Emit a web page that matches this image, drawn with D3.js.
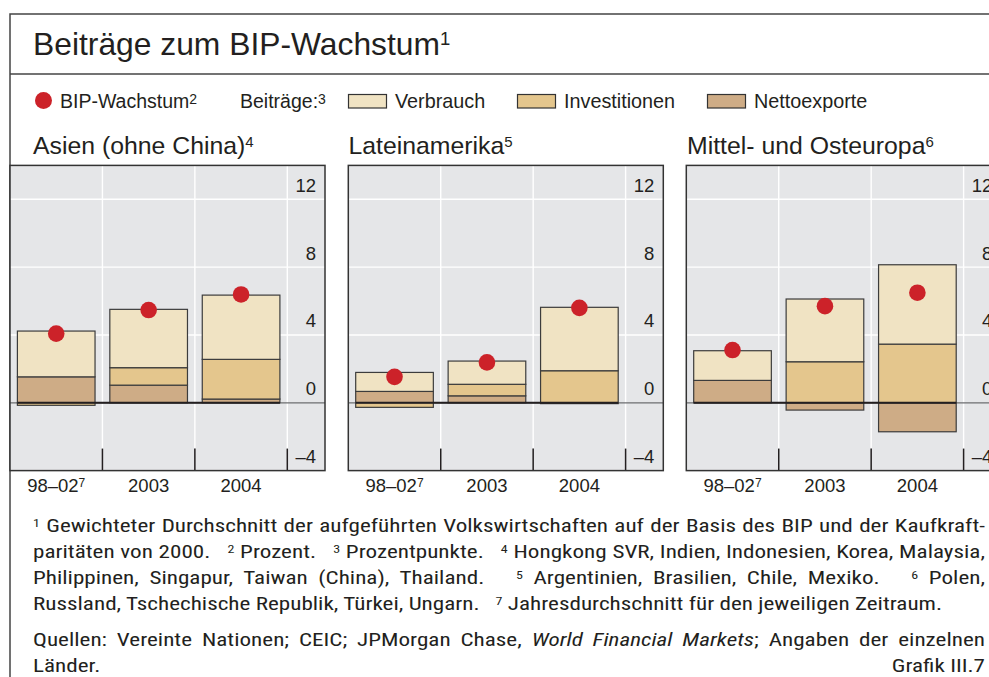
<!DOCTYPE html>
<html>
<head>
<meta charset="utf-8">
<script src="https://cdn.jsdelivr.net/npm/d3@7"></script>
<style>
  body { margin: 0; background: #fff; }
  svg { display: block; font-family: "Liberation Sans", Arial, sans-serif; fill: #231f20; }
  .fn { font-family: "Roboto Condensed", "Liberation Sans Narrow", "DejaVu Sans Condensed", "Liberation Sans", sans-serif; font-stretch: condensed; white-space: pre; }
</style>
</head>
<body>
<svg width="989" height="677"></svg>
<script>
// Beiträge zum BIP-Wachstum, drei Regionen
const regions = ["Asien (ohne China)", "Lateinamerika", "Mittel- und Osteuropa"];
const regionNotes = ["4", "5", "6"];
const categories = ["98–02", "2003", "2004"];
const categoryNotes = ["7", "", ""];
const yTicks = [12, 8, 4, 0, -4];
const keys = ["netto", "invest", "verbrauch"];

// je Region: [98–02, 2003, 2004]
const verbrauch = [[2.70, 3.44, 3.79], [1.12, 1.37, 3.74], [1.75, 3.70, 4.68]];
const investitionen = [[-0.15, 1.03, 2.34], [-0.27, 0.68, 1.89], [0.00, 2.42, 3.46]];
const nettoexporte = [[1.53, 1.04, 0.22], [0.67, 0.41, -0.05], [1.32, -0.43, -1.71]];
const bipWachstum = [[4.08, 5.47, 6.39], [1.53, 2.38, 5.60], [3.11, 5.70, 6.49]];

const colors = { verbrauch: "#f0e3c3", invest: "#e4c68d", netto: "#ceac86" };
const red = "#cc2229";
const plotBg = "#e5e6e8";
const ink = "#231f20";

const svg = d3.select("svg");

// Rahmen
svg.append("path").attr("d", "M10,677V14H989").attr("fill", "none").attr("stroke", "#444").attr("stroke-width", 1.5);
svg.append("line").attr("x1", 10).attr("x2", 989).attr("y1", 74).attr("y2", 74).attr("stroke", "#444").attr("stroke-width", 1.5);

function supText(sel, x, y, main, sup, size, supSize) {
  const t = sel.append("text").attr("x", x).attr("y", y).style("font-size", size + "px").text(main);
  if (sup) {
    t.append("tspan").attr("dy", -(0.72 * size - 0.72 * supSize)).style("font-size", supSize + "px").text(sup);
  }
  return t;
}

supText(svg, 33, 55, "Beiträge zum BIP-Wachstum", "1", 31.8, 18.5);

// Legende
svg.append("circle").attr("cx", 43.5).attr("cy", 100.5).attr("r", 8.5).attr("fill", red);
supText(svg, 60, 108, "BIP-Wachstum", "2", 19.5, 14);
supText(svg, 240, 108, "Beiträge:", "3", 19.5, 14);
const legendItems = [["verbrauch", "Verbrauch", 348.5], ["invest", "Investitionen", 517.5], ["netto", "Nettoexporte", 707.5]];
legendItems.forEach(([k, label, lx]) => {
  svg.append("rect").attr("x", lx).attr("y", 94.5).attr("width", 38).attr("height", 13.5)
    .attr("fill", colors[k]).attr("stroke", "#333").attr("stroke-width", 1.2);
  svg.append("text").attr("x", lx + 46.5).attr("y", 108).style("font-size", "19.8px").text(label);
});

// Panels
const panelLeft = [10, 348.3, 686.3];
const panelTitleX = [33, 348.5, 687];
const panelW = 315;
const plotW = 277.3;
const y = d3.scaleLinear().domain([-4, 14]).range([470.6, 165.4]);

const stack = d3.stack().keys(keys).offset(d3.stackOffsetDiverging);

regions.forEach((name, i) => {
  const x0 = panelLeft[i];
  const x = d3.scaleBand().domain(categories).range([x0, x0 + plotW]).paddingInner(0.16).paddingOuter(0.08);
  const step = x.step();
  const bounds = categories.map((c) => x(c) + x.bandwidth() / 2 + step / 2);
  const rows = categories.map((c, j) => ({
    cat: c, verbrauch: verbrauch[i][j], invest: investitionen[i][j], netto: nettoexporte[i][j], bip: bipWachstum[i][j]
  }));
  const series = stack(rows);
  const g = svg.append("g");

  supText(svg, panelTitleX[i], 154, name, regionNotes[i], 24.8, 15);

  g.append("rect").attr("x", x0).attr("y", y(14)).attr("width", panelW).attr("height", y(-4) - y(14)).attr("fill", plotBg);

  g.selectAll(".hgrid").data([12, 8, 4]).join("line")
    .attr("x1", x0).attr("x2", x0 + panelW).attr("y1", (d) => y(d)).attr("y2", (d) => y(d))
    .attr("stroke", "#fff").attr("stroke-width", 1.4);
  g.selectAll(".vgrid").data(bounds).join("line")
    .attr("x1", (d) => d).attr("x2", (d) => d).attr("y1", y(14)).attr("y2", y(-4) - 22)
    .attr("stroke", "#fff").attr("stroke-width", 1.4);
  g.selectAll(".xtick").data(bounds).join("line")
    .attr("x1", (d) => d).attr("x2", (d) => d).attr("y1", y(-4) - 22).attr("y2", y(-4))
    .attr("stroke", ink).attr("stroke-width", 1.5);

  g.append("line").attr("x1", x0).attr("x2", x0 + panelW).attr("y1", y(0)).attr("y2", y(0))
    .attr("stroke", "#6d6e71").attr("stroke-width", 1.2);

  // Balken
  series.forEach((s) => {
    g.selectAll(null).data(s.filter((d) => Math.abs(d[1] - d[0]) > 0.001)).join("rect")
      .attr("x", (d) => x(d.data.cat))
      .attr("width", x.bandwidth())
      .attr("y", (d) => y(d[1]))
      .attr("height", (d) => y(d[0]) - y(d[1]))
      .attr("fill", colors[s.key])
      .attr("stroke", "#3c3c3c")
      .attr("stroke-width", 1.2);
  });

  g.append("line").attr("x1", x(categories[0])).attr("x2", x(categories[2]) + x.bandwidth())
    .attr("y1", y(0)).attr("y2", y(0)).attr("stroke", ink).attr("stroke-width", 2);

  g.selectAll(".dot").data(rows).join("circle")
    .attr("cx", (d) => x(d.cat) + x.bandwidth() / 2)
    .attr("cy", (d) => y(d.bip))
    .attr("r", 8.3)
    .attr("fill", red);

  // Rahmen des Panels
  g.append("rect").attr("x", x0).attr("y", y(14)).attr("width", panelW).attr("height", y(-4) - y(14))
    .attr("fill", "none").attr("stroke", "#333").attr("stroke-width", 1.5);

  // y-Achse (Beschriftung)
  const yAxis = g.append("g").attr("transform", "translate(" + (x0 + panelW - 9) + ",0)")
    .call(d3.axisLeft(y).tickValues(yTicks).tickSize(0).tickFormat((d) => (d < 0 ? "–" + Math.abs(d) : d)));
  yAxis.select(".domain").remove();
  yAxis.selectAll("text").attr("x", 0).attr("dy", -8).attr("fill", ink)
    .style("font-size", "18.5px").style("font-family", "Liberation Sans, Arial, sans-serif");

  // x-Achse
  const xAxis = g.append("g").attr("transform", "translate(0," + y(-4) + ")")
    .call(d3.axisBottom(x).tickSize(0));
  xAxis.select(".domain").remove();
  xAxis.selectAll("text").attr("y", 21).attr("dy", 0).attr("fill", ink)
    .style("font-size", "18.5px").style("font-family", "Liberation Sans, Arial, sans-serif")
    .each(function (d, j) {
      if (categoryNotes[j]) {
        d3.select(this).append("tspan").attr("dy", -4.7).style("font-size", "12px").text(categoryNotes[j]);
      }
    });
});

// Fußnoten
const footnoteLines = [
  [["1", "sup"], [" Gewichteter Durchschnitt der aufgeführten Volkswirtschaften auf der Basis des BIP und der Kaufkraft-"]],
  [["paritäten von 2000.   "], ["2", "sup"], [" Prozent.   "], ["3", "sup"], [" Prozentpunkte.   "], ["4", "sup"], [" Hongkong SVR, Indien, Indonesien, Korea, Malaysia,"]],
  [["Philippinen, Singapur, Taiwan (China), Thailand.   "], ["5", "sup"], [" Argentinien, Brasilien, Chile, Mexiko.   "], ["6", "sup"], [" Polen,"]],
  [["Russland, Tschechische Republik, Türkei, Ungarn.   "], ["7", "sup"], [" Jahresdurchschnitt für den jeweiligen Zeitraum."]],
  [["Quellen: Vereinte Nationen; CEIC; JPMorgan Chase, "], ["World Financial Markets", "it"], ["; Angaben der einzelnen"]],
  [["Länder."]]
];
const footBase = [532, 558, 584, 610, 646, 672];
const footRight = [985, 985, 985, 943, 985, null];

const footTexts = footnoteLines.map((segs, i) => {
  const t = svg.append("text").attr("class", "fn").attr("x", 0).attr("y", 0).style("font-size", "19px");
  let raised = false;
  segs.forEach(([s, kind]) => {
    const ts = t.append("tspan").text(s);
    if (kind === "sup") {
      ts.attr("dy", -5.5).style("font-size", "11.5px");
      raised = true;
    } else {
      if (raised) { ts.attr("dy", 5.5); raised = false; }
      if (kind === "it") ts.style("font-style", "italic");
    }
  });
  return t;
});
const grafik = svg.append("text").attr("class", "fn").attr("text-anchor", "end")
  .style("font-size", "19px").text("Grafik III.7");

// Breitenfaktor aus der (nicht ausgeschlossenen) Zeile 4 ableiten
const f = (943 - 33) / footTexts[3].node().getComputedTextLength();
footTexts.forEach((t, i) => {
  t.attr("transform", "translate(33," + footBase[i] + ") scale(" + f + ",1)");
  if (footRight[i] && i !== 3) {
    const w = t.node().getComputedTextLength();
    const n = (t.text().match(/ /g) || []).length;
    if (n) t.style("word-spacing", ((footRight[i] - 33) / f - w) / n + "px");
  }
});
grafik.attr("transform", "translate(985,672) scale(" + f + ",1)");
</script>
</body>
</html>
